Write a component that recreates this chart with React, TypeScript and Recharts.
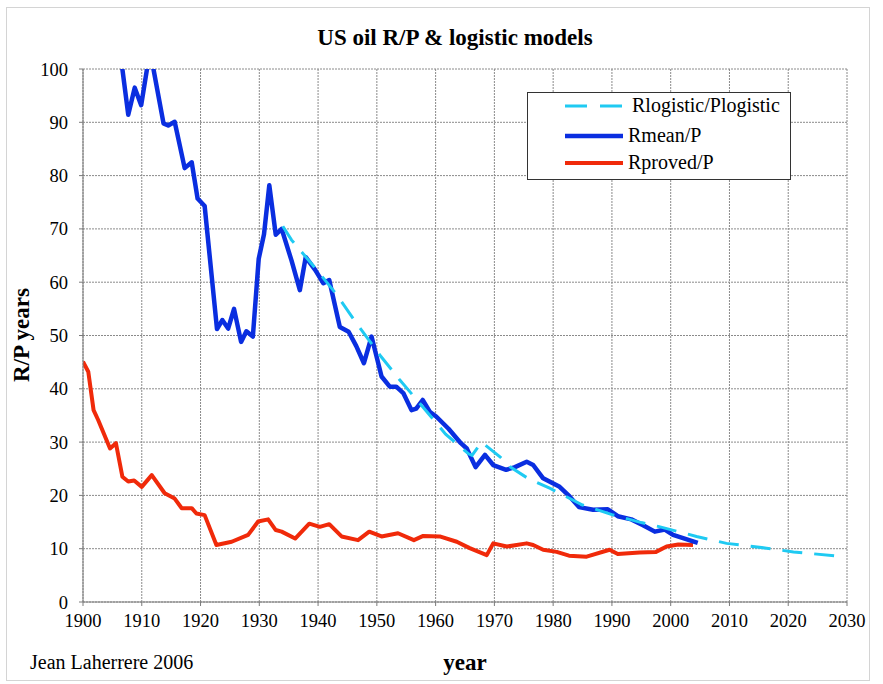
import React from 'react';
import { LineChart, Line, XAxis, YAxis, CartesianGrid, Legend } from 'recharts';

// ---- axis ticks ----
const yearTicks = [1900, 1910, 1920, 1930, 1940, 1950, 1960, 1970, 1980, 1990, 2000, 2010, 2020, 2030];
const rpTicks = [0, 10, 20, 30, 40, 50, 60, 70, 80, 90, 100];

// ---- Rmean/P (blue) ----
const rmeanYears = [1906, 1907.7, 1908.8, 1909.9, 1911.4, 1913.7, 1914.5, 1915.6, 1917.3, 1918.5, 1919.5, 1920.7, 1922.8, 1923.7, 1924.7, 1925.7, 1926.9, 1927.8, 1928.9, 1929.9, 1930.8, 1931.7, 1932.8, 1933.8, 1935.5, 1936.9, 1937.9, 1939.5, 1940.9, 1941.9, 1943.7, 1945.2, 1946.5, 1947.8, 1949.1, 1950.8, 1952.2, 1953.3, 1954.5, 1955.9, 1956.7, 1957.8, 1959, 1960.1, 1962.2, 1964.3, 1965.3, 1966.8, 1968.4, 1969.8, 1972, 1973.5, 1975.5, 1976.6, 1978.3, 1981.1, 1982.8, 1984.4, 1986.8, 1989.3, 1991, 1993.3, 1995.3, 1997.3, 1999, 2000.4, 2004.6];
const rmeanValues = [106, 91.4, 96.5, 93.2, 103.5, 89.8, 89.4, 90.1, 81.4, 82.5, 75.7, 74.3, 51.2, 52.9, 51.3, 55, 48.8, 50.8, 49.8, 64.4, 69, 78.2, 68.9, 70, 64, 58.5, 64.7, 62.3, 59.8, 60.4, 51.6, 50.7, 48, 44.8, 49.8, 42.3, 40.4, 40.4, 39.2, 36, 36.3, 37.9, 35.7, 34.8, 32.5, 29.8, 28.8, 25.3, 27.6, 25.7, 24.8, 25.3, 26.3, 25.7, 23.2, 21.6, 19.8, 17.8, 17.3, 17.4, 16.1, 15.5, 14.4, 13.2, 13.6, 12.6, 11.1];

// ---- Rproved/P (red) ----
const rprovedYears = [1900, 1900.9, 1901.8, 1902.6, 1904.6, 1905.6, 1906.7, 1907.7, 1908.7, 1910, 1911.7, 1913.9, 1915.6, 1916.8, 1918.5, 1919.3, 1920.7, 1922.7, 1925.3, 1928.1, 1929.8, 1931.5, 1932.8, 1933.8, 1936.1, 1938.5, 1940.3, 1941.9, 1944, 1946.8, 1948.7, 1950.8, 1953.6, 1956.3, 1957.9, 1960.7, 1963.6, 1965.8, 1968.7, 1969.8, 1972.1, 1975.5, 1976.6, 1978.3, 1980.6, 1982.7, 1985.7, 1989.6, 1991, 1994.7, 1997.5, 1999.3, 2001.3, 2003.8];
const rprovedValues = [45.1, 43.2, 36, 34.1, 28.8, 29.8, 23.5, 22.6, 22.8, 21.6, 23.8, 20.4, 19.4, 17.6, 17.6, 16.6, 16.3, 10.7, 11.3, 12.6, 15.1, 15.5, 13.5, 13.2, 11.9, 14.7, 14.1, 14.6, 12.3, 11.6, 13.2, 12.3, 12.9, 11.6, 12.4, 12.3, 11.3, 10.1, 8.8, 11, 10.4, 11, 10.7, 9.8, 9.4, 8.7, 8.5, 9.8, 9, 9.3, 9.4, 10.4, 10.8, 10.7];

// ---- Rlogistic/Plogistic (cyan dashed) ----
const logisticYears = [1934, 1935.5, 1940, 1943, 1946.4, 1950.6, 1953.8, 1957.9, 1961.7, 1965.6, 1966.2, 1967.8, 1971, 1972.6, 1975.7, 1979.5, 1985, 1990, 1995, 1998.2, 2004.4, 2009.5, 2016.3, 2020.9, 2028.5];
const logisticValues = [70.5, 67.9, 62, 57.9, 52.5, 46.2, 41.8, 36.5, 31.5, 27.8, 27.5, 30.0, 27.2, 25.4, 23.2, 21.3, 18.2, 16.4, 14.9, 14.1, 12.3, 11, 10.1, 9.4, 8.6];

const zip = (ys: number[], vs: number[]) => ys.map((y, i) => ({ year: y, v: vs[i] }));
const rmeanData = zip(rmeanYears, rmeanValues);
const rprovedData = zip(rprovedYears, rprovedValues);
const logisticData = zip(logisticYears, logisticValues);

const BLUE = '#0a2ee0';
const RED = '#f02a0a';
const CYAN = '#1fcaf2';
const SERIF = '"Liberation Serif", "Times New Roman", serif';

const LegendBox = () => (
  <div
    style={{
      width: 264,
      height: 88,
      border: '1.5px solid #333',
      background: '#fff',
      position: 'relative',
      fontFamily: SERIF,
      fontSize: 20,
      color: '#000',
      boxSizing: 'border-box',
    }}
  >
    <svg width={264} height={88} style={{ position: 'absolute', left: 0, top: 0 }}>
      <line x1={37} y1={13} x2={95} y2={13} stroke={CYAN} strokeWidth={3} strokeDasharray="22 13" />
      <line x1={37} y1={43} x2={95} y2={43} stroke={BLUE} strokeWidth={4.5} />
      <line x1={37} y1={70} x2={95} y2={70} stroke={RED} strokeWidth={4} />
    </svg>
    <div style={{ position: 'absolute', left: 104, top: 13, transform: 'translateY(-55%)', whiteSpace: 'nowrap', lineHeight: '22px' }}>Rlogistic/Plogistic</div>
    <div style={{ position: 'absolute', left: 100, top: 43, transform: 'translateY(-55%)', whiteSpace: 'nowrap', lineHeight: '22px' }}>Rmean/P</div>
    <div style={{ position: 'absolute', left: 100, top: 70, transform: 'translateY(-55%)', whiteSpace: 'nowrap', lineHeight: '22px' }}>Rproved/P</div>
  </div>
);

export default function App() {
  return (
    <div style={{ position: 'absolute', left: 0, top: 0, width: 883, height: 684, background: '#fff', fontFamily: SERIF }}>
      <div style={{ position: 'absolute', left: 6, top: 7, width: 862, height: 672, border: '1px solid #d4d4d4' }} />
      <div
        style={{
          position: 'absolute',
          left: 205,
          top: 38,
          width: 500,
          transform: 'translateY(-50%)',
          textAlign: 'center',
          fontWeight: 'bold',
          fontSize: 23,
          lineHeight: '28px',
        }}
      >
        US oil R/P &amp; logistic models
      </div>
      <LineChart
        width={883}
        height={684}
        margin={{ top: 69, right: 36, bottom: 0, left: 0 }}
        style={{ position: 'absolute', left: 0, top: 0 }}
      >
        <CartesianGrid stroke="#8a8a8a" strokeWidth={1} strokeDasharray="2 1" />
        <XAxis
          type="number"
          dataKey="year"
          domain={[1900, 2030]}
          ticks={yearTicks}
          allowDataOverflow
          height={82}
          tickSize={4}
          tickMargin={8}
          stroke="#7a7a7a"
          tick={{ fill: '#000', fontSize: 18.5, fontFamily: SERIF }}
          interval={0}
        />
        <YAxis
          type="number"
          domain={[0, 100]}
          ticks={rpTicks}
          allowDataOverflow
          width={83}
          tickSize={4}
          tickMargin={11}
          stroke="#7a7a7a"
          tick={{ fill: '#000', fontSize: 18.5, fontFamily: SERIF }}
          interval={0}
        />
        <Legend
          layout="vertical"
          align="center"
          verticalAlign="middle"
          content={() => <LegendBox />}
          wrapperStyle={{ left: 527, top: 92, width: 264, height: 88 }}
        />
        <Line
          data={rprovedData}
          dataKey="v"
          name="Rproved/P"
          stroke={RED}
          strokeWidth={4}
          dot={false}
          isAnimationActive={false}
          strokeLinejoin="round"
        />
        <Line
          data={rmeanData}
          dataKey="v"
          name="Rmean/P"
          stroke={BLUE}
          strokeWidth={4.5}
          dot={false}
          isAnimationActive={false}
          strokeLinejoin="round"
        />
        <Line
          data={logisticData}
          dataKey="v"
          name="Rlogistic/Plogistic"
          stroke={CYAN}
          strokeWidth={3}
          strokeDasharray="20 12"
          dot={false}
          type="linear"
          isAnimationActive={false}
        />
      </LineChart>
      <div
        style={{
          position: 'absolute',
          left: 22,
          top: 335,
          transform: 'translate(-50%, -50%) rotate(-90deg)',
          fontWeight: 'bold',
          fontSize: 23,
          whiteSpace: 'nowrap',
        }}
      >
        R/P years
      </div>
      <div
        style={{
          position: 'absolute',
          left: 465,
          top: 663,
          transform: 'translate(-50%, -50%)',
          fontWeight: 'bold',
          fontSize: 23,
          whiteSpace: 'nowrap',
        }}
      >
        year
      </div>
      <div
        style={{
          position: 'absolute',
          left: 30,
          top: 662,
          transform: 'translateY(-50%)',
          fontSize: 20,
          whiteSpace: 'nowrap',
        }}
      >
        Jean Laherrere 2006
      </div>
    </div>
  );
}
